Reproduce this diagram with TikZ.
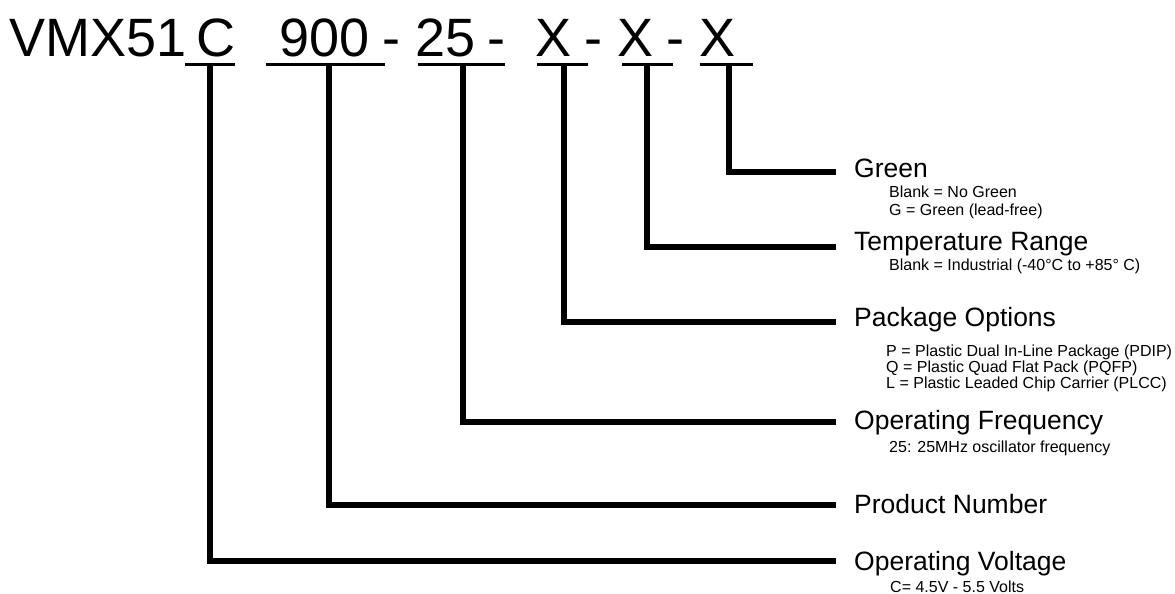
\documentclass[tikz,border=0pt]{standalone}
\usepackage{fontspec}
\setmainfont{Liberation Sans}
\begin{document}
\begin{tikzpicture}[x=1pt,y=-1pt,
  ttl/.style={anchor=base west,inner sep=0pt,font=\fontsize{54}{60}\selectfont},
  lbl/.style={anchor=base west,inner sep=0pt,font=\fontsize{26.5}{30}\selectfont},
  sub/.style={anchor=base west,inner sep=0pt,font=\fontsize{16}{18}\selectfont},
  uline/.style={line width=3pt},
  lead/.style={line width=6pt,line join=miter}]
\useasboundingbox (0,0) rectangle (1175,594);
\fill[white] (0,0) rectangle (1175,594);
% title
\node[ttl] (tV) at (9,57) {VMX51};
\node[ttl] (tC) at (196,57) {C};
\node[ttl] (t900) at (279,57) {900};
\node[ttl] (d1) at (382.5,57) {-};
\node[ttl] (t25) at (415.4,57) {25};
\node[ttl] (d2) at (487.5,57) {-};
\node[ttl] (tX1) at (535,57) {X};
\node[ttl] (d3) at (584.5,57) {-};
\node[ttl] (tX2) at (617,57) {X};
\node[ttl] (d4) at (666.5,57) {-};
\node[ttl] (tX3) at (699,57) {X};
% underlines
\coordinate (aC) at (185,64.5);  \coordinate (bC) at (235,64.5);
\coordinate (a9) at (266,64.5);  \coordinate (b9) at (385,64.5);
\coordinate (a2) at (418,64.5);  \coordinate (b2) at (505,64.5);
\coordinate (a3) at (537,64.5);  \coordinate (b3) at (588,64.5);
\coordinate (a4) at (622,64.5);  \coordinate (b4) at (673,64.5);
\coordinate (a5) at (700,64.5);  \coordinate (b5) at (753,64.5);
\foreach \p in {C,9,2,3,4,5} \draw[uline] (a\p) -- (b\p);
% lead start points
\coordinate (uC) at (210,64);
\coordinate (u9) at (329,64);
\coordinate (u2) at (463,64);
\coordinate (u3) at (563.5,64);
\coordinate (u4) at (646.5,64);
\coordinate (u5) at (728.5,64);
% lead end points
\coordinate (e5) at (836,172);
\coordinate (e4) at (836,247);
\coordinate (e3) at (836,321.5);
\coordinate (e2) at (836,422);
\coordinate (e9) at (836,504.5);
\coordinate (eC) at (836,561);
\draw[lead] (u5) |- (e5);
\draw[lead] (u4) |- (e4);
\draw[lead] (u3) |- (e3);
\draw[lead] (u2) |- (e2);
\draw[lead] (u9) |- (e9);
\draw[lead] (uC) |- (eC);
% labels
\node[lbl] (lG) at (854,177) {Green};
\node[sub] (sG1) at (889,197) {Blank = No Green};
\node[sub] (sG2) at (889,215) {G = Green (lead-free)};
\node[lbl] (lT) at (854,250) {Temperature Range};
\node[sub] (sT1) at (889,270) {Blank = Industrial (-40°C to +85° C)};
\node[lbl] (lP) at (854,326) {Package Options};
\node[sub] (sP1) at (886,356) {P = Plastic Dual In-Line Package (PDIP)};
\node[sub] (sP2) at (886,372) {Q = Plastic Quad Flat Pack (PQFP)};
\node[sub] (sP3) at (886,388) {L = Plastic Leaded Chip Carrier (PLCC)};
\node[lbl] (lF) at (854,429) {Operating Frequency};
\node[sub] (sF1) at (889,452) {25: 25MHz oscillator frequency};
\node[lbl] (lN) at (854,513) {Product Number};
\node[lbl] (lV) at (854,570) {Operating Voltage};
\node[sub] (sV1) at (890,592) {C= 4.5V - 5.5 Volts};
\end{tikzpicture}
\end{document}
